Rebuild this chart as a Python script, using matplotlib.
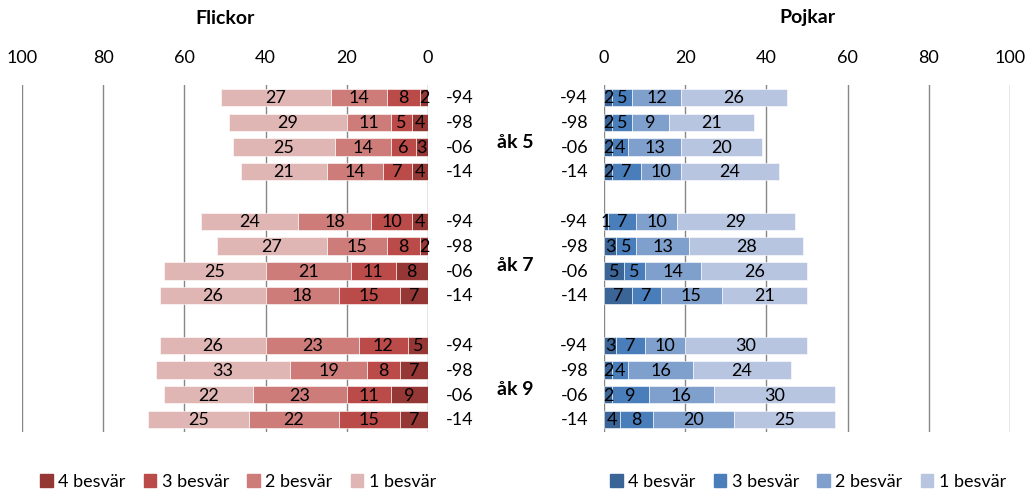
import matplotlib
matplotlib.use("Agg")
import matplotlib.pyplot as plt
from matplotlib.patches import Patch
from matplotlib.transforms import blended_transform_factory

plt.rcParams['font.family'] = ['Lato', 'DejaVu Sans']

# data: per row values for 4, 3, 2, 1 besvär
years = ["-94", "-98", "-06", "-14"]
groups = ["åk 5", "åk 7", "åk 9"]
levels = ["4 besvär", "3 besvär", "2 besvär", "1 besvär"]

flickor = [
    [2, 8, 14, 27], [4, 5, 11, 29], [3, 6, 14, 25], [4, 7, 14, 21],
    [4, 10, 18, 24], [2, 8, 15, 27], [8, 11, 21, 25], [7, 15, 18, 26],
    [5, 12, 23, 26], [7, 8, 19, 33], [9, 11, 23, 22], [7, 15, 22, 25],
]
pojkar = [
    [2, 5, 12, 26], [2, 5, 9, 21], [2, 4, 13, 20], [2, 7, 10, 24],
    [1, 7, 10, 29], [3, 5, 13, 28], [5, 5, 14, 26], [7, 7, 15, 21],
    [3, 7, 10, 30], [2, 4, 16, 24], [2, 9, 16, 30], [4, 8, 20, 25],
]

red_colors = ["#953735", "#BA4B48", "#CD7C7A", "#E0B6B5"]
blue_colors = ["#3B6497", "#4A7EBB", "#7F9FCC", "#B7C5E0"]

W, H = 1033, 490
fig = plt.figure(figsize=(W / 100, H / 100), dpi=100)

# row positions with a gap between the groups
rows = []
for g in range(3):
    for i in range(4):
        rows.append(g * 5 + i)


def make_axes(x0, x1, data, colors, title, reverse):
    ax = fig.add_axes([x0 / W, 1 - 432 / H, (x1 - x0) / W, 347 / H])
    for r, vals in zip(rows, data):
        left = 0
        for v, c in zip(vals, colors):
            ax.barh(r, v, left=left, height=0.7, color=c, edgecolor="white",
                    linewidth=0.4, zorder=3)
            ax.text(left + v / 2, r + 0.03, str(v), ha="center", va="center",
                    fontsize=13, zorder=4)
            left += v
    ax.set_xlim(100, 0) if reverse else ax.set_xlim(0, 100)
    ax.set_ylim(13.5, -0.5)
    ax.set_xticks([0, 20, 40, 60, 80, 100])
    ax.xaxis.tick_top()
    ax.tick_params(axis="x", length=0, pad=14, labelsize=13)
    ax.set_yticks([])
    for s in ax.spines.values():
        s.set_visible(False)
    ax.grid(axis="x", color="#878787", lw=1, zorder=0)
    fig.text((x0 + x1) / 2 / W, 1 - 18 / H, title, ha="center", va="center",
             fontsize=14, fontweight="bold")
    return ax


axl = make_axes(22, 428, flickor, red_colors, "Flickor", True)
axr = make_axes(604, 1010, pojkar, blue_colors, "Pojkar", False)

trl = blended_transform_factory(fig.transFigure, axl.transData)
for r, i in zip(rows, range(12)):
    axl.text(446 / W, r + 0.03, years[i % 4], transform=trl, ha="left",
             va="center", fontsize=13)
    axl.text(588 / W, r + 0.03, years[i % 4], transform=trl, ha="right",
             va="center", fontsize=13)
for g, name in enumerate(groups):
    axl.text(515 / W, g * 5 + 1.8, name, transform=trl, ha="center",
             va="center", fontsize=14, fontweight="bold")

for colors, xc in [(red_colors, 238), (blue_colors, 808)]:
    handles = [Patch(color=c, label=l) for c, l in zip(colors, levels)]
    fig.legend(handles=handles, loc="center", bbox_to_anchor=(xc / W, 1 - 482 / H),
               ncol=4, frameon=False, fontsize=13, handlelength=0.7,
               handleheight=0.7, handletextpad=0.3, columnspacing=1.0)

fig.savefig("out.png", dpi=100)
